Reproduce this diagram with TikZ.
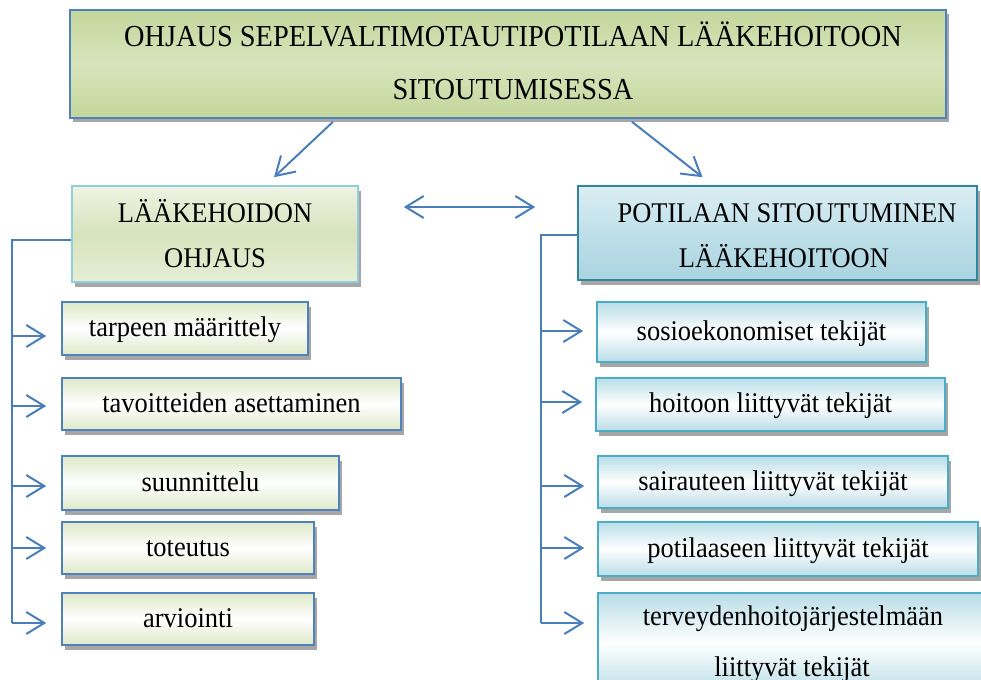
\documentclass[tikz,border=0pt]{standalone}
\usepackage{fontspec}
\setmainfont{Liberation Serif}[FakeStretch=0.93]
\usetikzlibrary{arrows.meta,shadows}
\definecolor{boxblue}{HTML}{4F81BD}
\definecolor{arrowblue}{HTML}{4A7EBB}
\definecolor{topg}{HTML}{C3D69B}
\definecolor{topmid}{HTML}{D8E4BC}
\definecolor{lhtop}{HTML}{EEF3E3}
\definecolor{lhmid}{HTML}{D7E3BC}
\definecolor{lhbot}{HTML}{E6EED5}
\definecolor{lhborder}{HTML}{93CDDD}
\definecolor{lcg}{HTML}{DFE9C8}
\definecolor{rhtop}{HTML}{DCEEF3}
\definecolor{rhmid}{HTML}{BFE0EA}
\definecolor{rhbot}{HTML}{A9D4E0}
\definecolor{rhborder}{HTML}{31859C}
\definecolor{rcg}{HTML}{B8DDE7}
\definecolor{rcborder}{HTML}{4BACC6}
\definecolor{shadowgray}{HTML}{A6A6A6}
\tikzset{
  basebox/.style={draw, line width=1.6pt, inner sep=0pt,
    drop shadow={shadow xshift=2.5pt, shadow yshift=-4.5pt, fill=shadowgray, opacity=1}},
  topbox/.style={basebox, draw=boxblue, top color=topg, bottom color=topg, middle color=topmid},
  lhbox/.style={basebox, draw=lhborder, top color=lhtop, bottom color=lhbot, middle color=lhmid},
  rhbox/.style={basebox, draw=rhborder, top color=rhtop, bottom color=rhbot, middle color=rhmid},
  lcbox/.style={basebox, draw=boxblue, top color=lcg, bottom color=lcg, middle color=white,
    font=\fontsize{28.5}{32}\selectfont, text height=16pt, text depth=0pt},
  rcbox/.style={basebox, draw=rcborder, top color=rcg, bottom color=rcg, middle color=white,
    font=\fontsize{28.5}{32}\selectfont, text height=16pt, text depth=0pt},
  toptxt/.style={anchor=base, inner sep=0pt, font=\fontsize{30.5}{33}\selectfont},
  hdtxt/.style={anchor=base, inner sep=0pt, font=\fontsize{28.5}{32}\selectfont},
  conn/.style={line width=2pt, draw=arrowblue},
  arr/.style={conn, -{Straight Barb[length=18pt,width=22pt,line width=2pt]}},
  darr/.style={conn, {Straight Barb[length=18pt,width=22pt,line width=2pt]}-{Straight Barb[length=18pt,width=22pt,line width=2pt]}}
}
\begin{document}
\begin{tikzpicture}[x=1pt,y=-1pt]
\useasboundingbox (0,0) rectangle (981,679);
\clip (0,0) rectangle (981,679);

% top box
\node[topbox, minimum width=876pt, minimum height=108pt] (top) at (508,64) {};
\node[toptxt] (t1) at (513,47) {OHJAUS SEPELVALTIMOTAUTIPOTILAAN LÄÄKEHOITOON};
\node[toptxt] (t2) at (513,100) {SITOUTUMISESSA};

% headers
\node[lhbox, minimum width=286pt, minimum height=96pt] (lh) at (215,234) {};
\node[hdtxt] (lh1) at (215,222) {LÄÄKEHOIDON};
\node[hdtxt] (lh2) at (215,267) {OHJAUS};

\node[rhbox, minimum width=399pt, minimum height=94pt] (rh) at (777.5,233) {};
\node[hdtxt] (rh1) at (787,222) {POTILAAN SITOUTUMINEN};
\node[hdtxt] (rh2) at (784,267) {LÄÄKEHOITOON};

% left children
\node[lcbox, minimum width=246pt, minimum height=53pt] (lc1) at (185,328.5) {tarpeen määrittely};
\node[lcbox, minimum width=339pt, minimum height=52pt] (lc2) at (231.5,404) {tavoitteiden asettaminen};
\node[lcbox, minimum width=277pt, minimum height=54pt] (lc3) at (200.5,483) {suunnittelu};
\node[lcbox, minimum width=252pt, minimum height=52pt] (lc4) at (188,548) {toteutus};
\node[lcbox, minimum width=252pt, minimum height=52pt] (lc5) at (188,619) {arviointi};

% right children
\node[rcbox, minimum width=329pt, minimum height=60pt] (rc1) at (761.5,332) {sosioekonomiset tekijät};
\node[rcbox, minimum width=349pt, minimum height=53pt] (rc2) at (770.5,404.5) {hoitoon liittyvät tekijät};
\node[rcbox, minimum width=350pt, minimum height=52pt] (rc3) at (773,482) {sairauteen liittyvät tekijät};
\node[rcbox, minimum width=380pt, minimum height=54pt] (rc4) at (788,549) {potilaaseen liittyvät tekijät};
\node[rcbox, minimum width=392pt, minimum height=100pt] (rc5) at (794,643) {};
\node[hdtxt] (rc5a) at (793,625) {terveydenhoitojärjestelmään};
\node[hdtxt] (rc5b) at (792,676) {liittyvät tekijät};

% top arrows
\draw[arr] ([xshift=-175pt,yshift=-3pt]top.south) -- ([xshift=59pt,yshift=8pt]lh.north);
\draw[arr] ([xshift=124pt,yshift=-3pt]top.south) -- ([xshift=-75pt,yshift=8pt]rh.north);
\draw[darr] ([xshift=45pt,yshift=27pt]lh.east) -- ([xshift=-42pt,yshift=26pt]rh.west);

% left bracket
\coordinate (spLtop) at (12,240);
\coordinate (spLbot) at (12,623);
\draw[conn] ([yshift=-6pt]lh.west) -- (spLtop) -- (spLbot);
\coordinate (la1) at (12,336);
\coordinate (la2) at (12,406);
\coordinate (la3) at (12,486);
\coordinate (la4) at (12,548);
\coordinate (la5) at (12,623);
\draw[arr, shorten >=15pt] (la1) -- (la1 -| lc1.west);
\draw[arr, shorten >=15pt] (la2) -- (la2 -| lc2.west);
\draw[arr, shorten >=15pt] (la3) -- (la3 -| lc3.west);
\draw[arr, shorten >=15pt] (la4) -- (la4 -| lc4.west);
\draw[arr, shorten >=15pt] (la5) -- (la5 -| lc5.west);

% right bracket
\coordinate (spRtop) at (541,235);
\coordinate (spRbot) at (541,623);
\draw[conn] ([yshift=-2pt]rh.west) -- (spRtop) -- (spRbot);
\coordinate (ra1) at (541,331);
\coordinate (ra2) at (541,402);
\coordinate (ra3) at (541,486);
\coordinate (ra4) at (541,548);
\coordinate (ra5) at (541,623);
\draw[arr, shorten >=13pt] (ra1) -- (ra1 -| rc1.west);
\draw[arr, shorten >=13pt] (ra2) -- (ra2 -| rc2.west);
\draw[arr, shorten >=13pt] (ra3) -- (ra3 -| rc3.west);
\draw[arr, shorten >=13pt] (ra4) -- (ra4 -| rc4.west);
\draw[arr, shorten >=13pt] (ra5) -- (ra5 -| rc5.west);
\end{tikzpicture}
\end{document}
